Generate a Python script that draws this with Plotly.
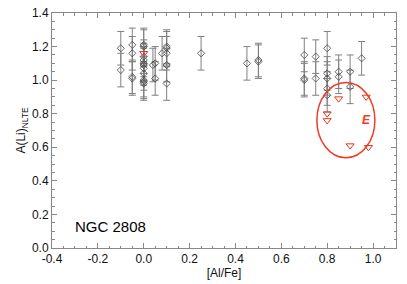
import plotly.graph_objects as go

# Detections (diamonds) with errors
al_fe = [-0.10, -0.10,
         -0.05, -0.05, -0.05, -0.05,
         0.00, 0.00, 0.00, 0.00, 0.00, 0.00, 0.00, 0.00, 0.00, 0.00, 0.00,
         0.04, 0.05, 0.05, 0.08,
         0.10, 0.10, 0.10, 0.10, 0.10,
         0.25, 0.45, 0.50, 0.50,
         0.70, 0.70, 0.70,
         0.75, 0.75,
         0.80, 0.80, 0.80, 0.80, 0.80,
         0.85, 0.85,
         0.90, 0.90,
         0.95]
a_li = [1.19, 1.06,
        1.21, 1.16, 1.02, 1.01,
        1.21, 1.20, 1.14, 1.12, 1.10, 1.09, 1.07, 1.04, 1.00, 0.99, 0.98,
        1.09, 1.10, 1.01, 1.16,
        1.20, 1.19, 1.16, 1.09, 0.98,
        1.16, 1.10, 1.12, 1.11,
        1.15, 1.01, 1.00,
        1.14, 1.01,
        1.19, 1.04, 1.01, 0.95, 0.91,
        1.05, 1.02,
        1.05, 0.96,
        1.13]
a_li_err = [0.10] * len(a_li)

# Upper limits (red triangles)
lim_al_fe = [0.00, 0.80, 0.80, 0.85, 0.90, 0.97, 0.98]
lim_a_li = [1.16, 0.80, 0.76, 0.89, 0.61, 0.90, 0.60]

# Ellipse marking group E
ell_x0, ell_x1 = 0.755, 1.008
ell_y0, ell_y1 = 0.537, 0.986
label_e = "E"
label_e_pos = (0.97, 0.76)
cluster_name = "NGC 2808"
cluster_pos = (-0.145, 0.128)

FONT = "Liberation Sans, Arial, Helvetica, sans-serif"

fig = go.Figure()
fig.add_trace(go.Scatter(
    x=al_fe, y=a_li, mode="markers",
    marker=dict(symbol="diamond-open", size=5.5, color="#444444", line=dict(width=0.8)),
    error_y=dict(type="data", array=a_li_err, visible=True, color="#808080",
                 thickness=1, width=3.5),
    showlegend=False,
))
fig.add_trace(go.Scatter(
    x=lim_al_fe, y=lim_a_li, mode="markers",
    marker=dict(symbol="triangle-down-open", size=7, color="#e8321e", line=dict(width=1)),
    showlegend=False,
))

fig.add_shape(type="circle", xref="x", yref="y",
              x0=ell_x0, x1=ell_x1, y0=ell_y0, y1=ell_y1,
              line=dict(color="#f03c24", width=1.5))
fig.add_annotation(x=label_e_pos[0], y=label_e_pos[1], text="<b><i>" + label_e + "</i></b>",
                   showarrow=False, font=dict(size=12, color="#f03c24", family=FONT))
fig.add_annotation(x=cluster_pos[0], y=cluster_pos[1], text=cluster_name,
                   showarrow=False, font=dict(size=15, color="black", family=FONT))

axis_common = dict(
    showgrid=False, zeroline=False, showline=True, linecolor="#888888", linewidth=1,
    mirror="allticks", ticks="inside", ticklen=5, tickcolor="#888888", tickwidth=1,
    tickfont=dict(size=12, color="#111111", family=FONT),
)

fig.update_xaxes(range=[-0.4, 1.1], tickvals=[-0.4, -0.2, 0.0, 0.2, 0.4, 0.6, 0.8, 1.0],
                 ticktext=["-0.4", "-0.2", "0.0", "0.2", "0.4", "0.6", "0.8", "1.0"],
                 minor=dict(dtick=0.05, tick0=0, ticklen=2.5, ticks="inside", tickcolor="#888888"),
                 title=dict(text="[Al/Fe]", standoff=1,
                            font=dict(size=12, color="#111111", family=FONT)),
                 **axis_common)
fig.update_yaxes(range=[0, 1.4], tickvals=[0.0, 0.2, 0.4, 0.6, 0.8, 1.0, 1.2, 1.4],
                 ticktext=["0.0", "0.2", "0.4", "0.6", "0.8", "1.0", "1.2", "1.4"],
                 minor=dict(dtick=0.05, tick0=0, ticklen=2.5, ticks="inside", tickcolor="#888888"),
                 title=dict(text="A(Li)<sub>NLTE</sub>", standoff=3,
                            font=dict(size=12, color="#111111", family=FONT)),
                 **axis_common)

fig.update_layout(
    width=407, height=284,
    margin=dict(l=52, r=11, t=13, b=36, autoexpand=False),
    plot_bgcolor="white", paper_bgcolor="white",
)

fig.write_html("out.html", config={"displayModeBar": False},
               post_script="document.body.style.margin='0';document.body.style.padding='0';")
